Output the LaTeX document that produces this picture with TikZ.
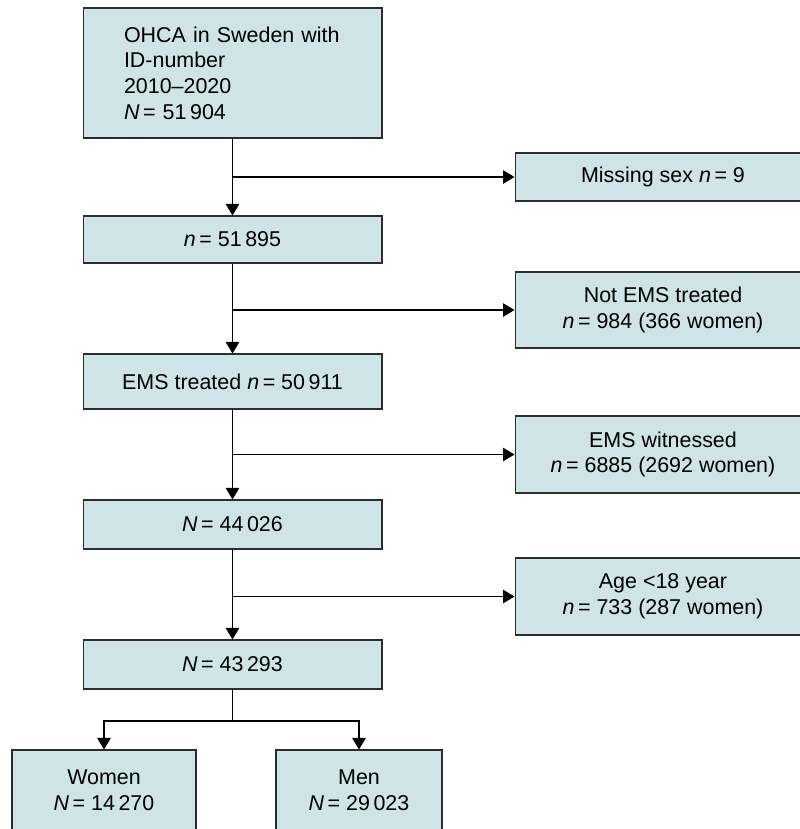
\documentclass[tikz,border=0pt]{standalone}
\usepackage{fontspec}
\setmainfont{Liberation Sans}
\usepackage{xcolor}
\usetikzlibrary{arrows.meta,positioning,calc}
\definecolor{boxfill}{RGB}{206,228,230}
\definecolor{boxline}{RGB}{45,45,45}

\begin{document}
\begin{tikzpicture}[x=0.02cm,y=-0.02cm,
  box/.style={draw=boxline,fill=boxfill,line width=0.6pt,inner sep=0pt,align=center,
    font=\fontsize{12.2}{14.6}\selectfont},
  leftbox/.style={box,minimum width=5.98cm},
  sidebox/.style={box,minimum width=5.92cm},
  arr/.style={-{Triangle[length=0.23cm,width=0.27cm]},line width=0.65pt}]
\useasboundingbox (0,0) rectangle (800,829);
\clip (0,0) rectangle (800,829);

% main column
\node[leftbox,minimum height=2.6cm,text width=4.34cm,inner xsep=0.82cm,align=left] (ohca) at (232.5,73)
  {OHCA in Sweden with\\ID-number\\2010--2020\\\textit{N}\,= 51\,904};
\node[leftbox,minimum height=0.94cm] (n1) at (232.5,239.5) {\textit{n}\,= 51\,895};
\node[leftbox,minimum height=1.1cm] (ems) at (232.5,381.5) {EMS treated \textit{n}\,= 50\,911};
\node[leftbox,minimum height=0.98cm] (n3) at (232.5,524.5) {\textit{N}\,= 44\,026};
\node[leftbox,minimum height=0.98cm] (n4) at (232.5,664.5) {\textit{N}\,= 43\,293};

% exclusions
\node[sidebox,minimum height=0.96cm] (miss) at (663,177) {Missing sex \textit{n}\,= 9};
\node[sidebox,minimum height=1.52cm] (notems) at (663,310) {Not EMS treated\\\textit{n}\,= 984 (366 women)};
\node[sidebox,minimum height=1.54cm] (witn) at (663,454.5) {EMS witnessed\\\textit{n}\,= 6885 (2692 women)};
\node[sidebox,minimum height=1.54cm] (age) at (663,596.5) {Age <18 year\\\textit{n}\,= 733 (287 women)};

% split by sex
\node[box,minimum width=3.68cm,minimum height=1.6cm] (women) at (104,790) {Women\\\textit{N}\,= 14\,270};
\node[box,minimum width=3.32cm,minimum height=1.6cm] (men) at (359,790) {Men\\\textit{N}\,= 29\,023};

\draw[arr] (ohca) -- (n1);
\draw[arr] (ohca |- miss) -- (miss);
\draw[arr] (n1) -- (ems);
\draw[arr] (n1 |- notems) -- (notems);
\draw[arr] (ems) -- (n3);
\draw[arr] (ems |- witn) -- (witn);
\draw[arr] (n3) -- (n4);
\draw[arr] (n3 |- age) -- (age);

\coordinate (split) at (232.5,721);
\draw[line width=0.65pt] (n4) -- (split);
\draw[arr] (split) -| (women);
\draw[arr] (split) -| (men);
\end{tikzpicture}
\end{document}
